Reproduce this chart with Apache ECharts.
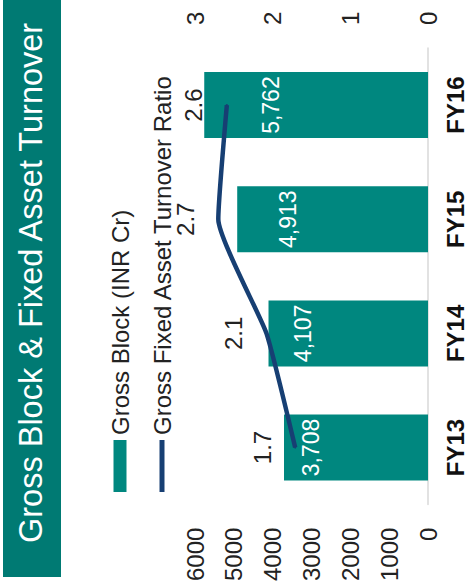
<!DOCTYPE html>
<html><head><meta charset="utf-8">
<script src="https://cdn.jsdelivr.net/npm/echarts@6/dist/echarts.min.js"></script>
<style>
html,body{margin:0;padding:0;width:474px;height:584px;overflow:hidden;background:#fff;}
#c{position:absolute;left:0;top:0;width:584px;height:474px;transform-origin:0 0;transform:translate(0,584px) rotate(-90deg);}
</style></head><body><div id="c"></div>
<script>
const titleText = 'Gross Block & Fixed Asset Turnover';
const categories = ['FY13', 'FY14', 'FY15', 'FY16'];
const seriesNames = ['Gross Block (INR Cr)', 'Gross Fixed Asset Turnover Ratio'];
const grossBlock = [3708, 4107, 4913, 5762];
const turnoverRatio = [1.71, 2.08, 2.70, 2.59];

const FONT = '"Liberation Sans", Arial, sans-serif';
const TEAL = '#00877F';
const NAVY = '#173F73';

const chart = echarts.init(document.getElementById('c'), null, {width: 584, height: 474, renderer: 'svg'});
chart.setOption({
  animation: false,
  backgroundColor: '#fff',
  textStyle: {fontFamily: FONT},
  graphic: [
    {type: 'rect', left: 7, top: 3, shape: {width: 577, height: 58}, style: {fill: '#007A73'}, z: 0},
    {type: 'text', left: 41, top: 14, style: {text: titleText, fill: '#fff', font: '32.5px ' + FONT}, z: 1}
  ],
  legend: {
    orient: 'vertical', left: 87, top: 103, itemWidth: 52, itemHeight: 13, itemGap: 18,
    textStyle: {fontSize: 24, color: '#222', fontFamily: FONT, lineHeight: 24},
    data: [
      {name: seriesNames[0], icon: 'rect'},
      {name: seriesNames[1], icon: 'path://M0,0L52,0L52,5L0,5Z'}
    ]
  },
  grid: {left: 77, right: 48, top: 195, bottom: 46},
  xAxis: {
    type: 'category', data: categories,
    axisLine: {show: true, lineStyle: {color: '#d9d9d9', width: 1.5}},
    axisTick: {show: false},
    axisLabel: {fontSize: 24, fontWeight: 'bold', color: '#111', margin: 15, fontFamily: FONT}
  },
  yAxis: [
    {type: 'value', min: 0, max: 6000, interval: 1000,
      splitLine: {show: false}, axisLine: {show: false}, axisTick: {show: false},
      axisLabel: {fontSize: 24, color: '#222', margin: 23, fontFamily: FONT, formatter: v => String(v)}},
    {type: 'value', min: 0, max: 3, interval: 1,
      splitLine: {show: false}, axisLine: {show: false}, axisTick: {show: false},
      axisLabel: {fontSize: 24, color: '#222', margin: 23, fontFamily: FONT, formatter: v => String(v)}}
  ],
  series: [
    {name: seriesNames[0], type: 'bar', data: grossBlock, barWidth: 66,
      itemStyle: {color: TEAL},
      label: {show: true, position: 'inside', offset: [0, -45], color: '#fff', fontSize: 23, fontFamily: FONT,
        formatter: p => p.value.toLocaleString('en-US')}},
    {name: seriesNames[1], type: 'line', yAxisIndex: 1, data: turnoverRatio, smooth: 0.15,
      symbol: 'circle', symbolSize: 2, z: 5,
      lineStyle: {color: NAVY, width: 4.5}, itemStyle: {color: NAVY},
      label: {show: true, position: 'top', distance: 20, color: '#222', fontSize: 24, fontFamily: FONT,
        formatter: p => p.value.toFixed(1)}}
  ]
});
</script></body></html>
